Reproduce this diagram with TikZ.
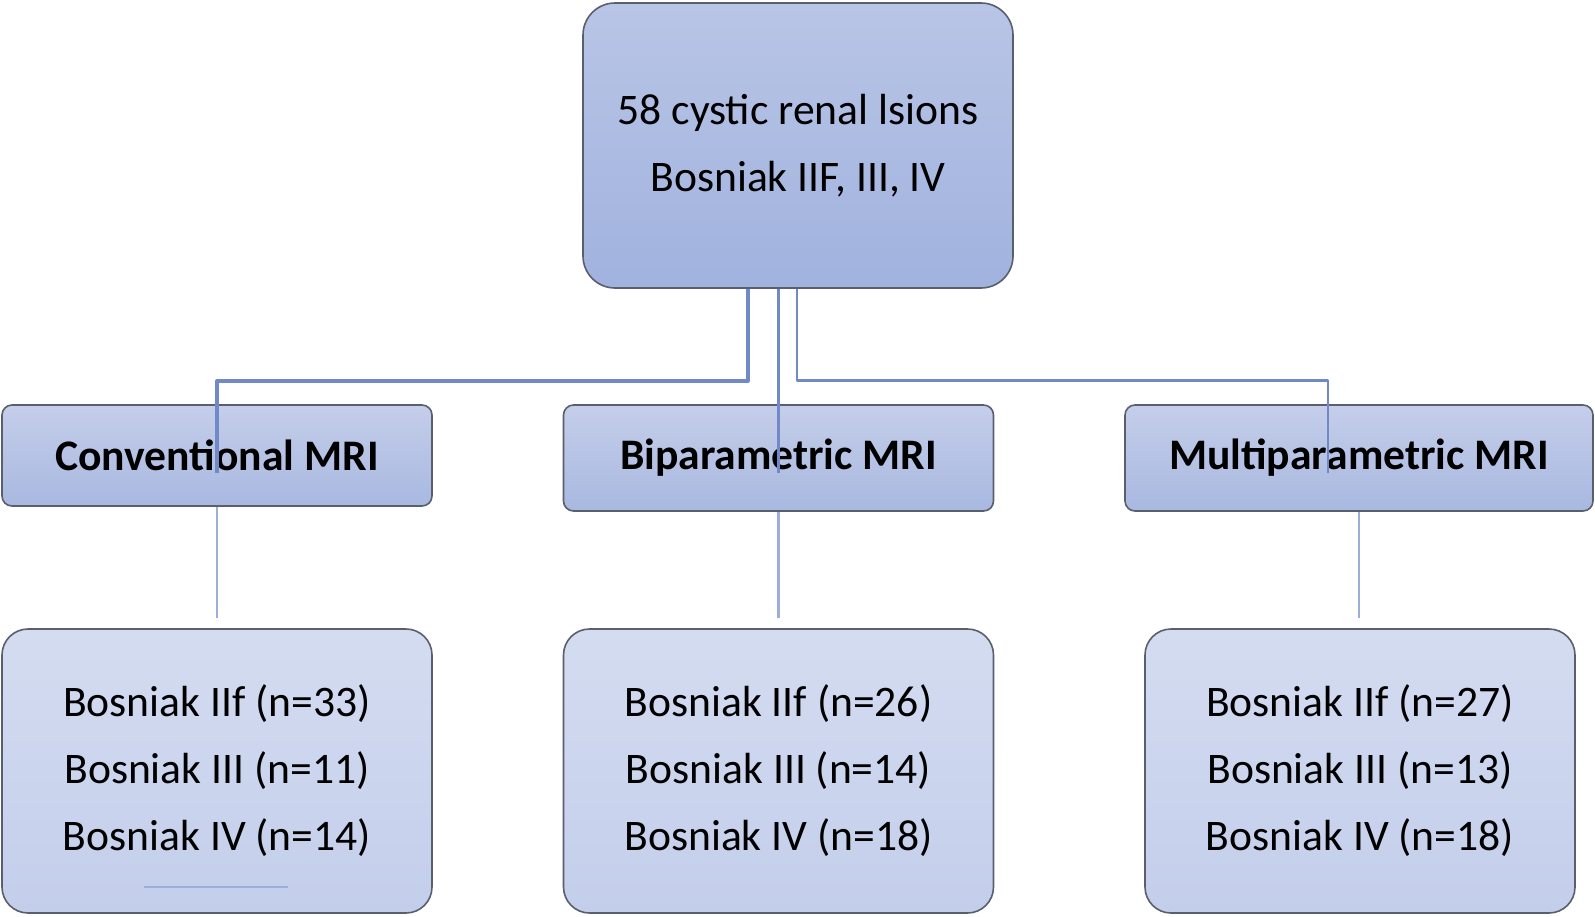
\documentclass[tikz,border=0pt]{standalone}
\usepackage{fontspec}
\setmainfont{Carlito}
\usetikzlibrary{positioning}
\definecolor{topA}{HTML}{B9C5E6}
\definecolor{topB}{HTML}{A0B2DE}
\definecolor{midA}{HTML}{C5CEEA}
\definecolor{midB}{HTML}{A8B8E0}
\definecolor{resA}{HTML}{D4DCF0}
\definecolor{resB}{HTML}{C3CEEB}
\definecolor{edge}{HTML}{5A5F6E}
\definecolor{linkc}{HTML}{7189C6}
\definecolor{linkl}{HTML}{9CAFDC}
\tikzset{
  topbox/.style={draw=edge, line width=0.8pt, rounded corners=16pt, top color=topA, bottom color=topB,
    minimum width=215pt, minimum height=142.5pt, align=center},
  mribox/.style={draw=edge, line width=0.8pt, rounded corners=5pt, top color=midA, bottom color=midB,
    minimum width=215pt, minimum height=53pt, font=\fontsize{21.8}{33.5}\selectfont\bfseries},
  resbox/.style={draw=edge, line width=0.8pt, rounded corners=13pt, top color=resA, bottom color=resB,
    minimum width=215pt, minimum height=142pt, align=center},
  link/.style={draw=linkc, line width=1.8pt},
  sublink/.style={draw=linkl, line width=1.3pt, shorten >=5pt}
}
\begin{document}
\begin{tikzpicture}[x=0.5pt, y=-0.5pt, line join=round, font=\fontsize{21.8}{33.5}\selectfont]
	\useasboundingbox (0,0) rectangle (1595,916);
	% boxes
	\node[topbox] (top) at (798,145.5) {58 cystic renal lsions\\Bosniak IIF, III, IV};
	\node[mribox, minimum height=50.5pt] (conv) at (217,455.5) {Conventional MRI};
	\node[mribox] (bip) at (778.5,458) {Biparametric MRI};
	\node[mribox, minimum width=234pt] (mult) at (1359,458) {Multiparametric MRI};
	\node[resbox] (convres) at (217,771) {Bosniak IIf (n=33)\\Bosniak III (n=11)\\Bosniak IV (n=14)};
	\node[resbox] (bipres) at (778.5,771) {Bosniak IIf (n=26)\\Bosniak III (n=14)\\Bosniak IV (n=18)};
	\node[resbox] (multres) at (1360,771) {Bosniak IIf (n=27)\\Bosniak III (n=13)\\Bosniak IV (n=18)};
	% connectors
	\draw[link] ([xshift=-25pt]top.south) -- ++(0,-46pt) -| ([yshift=-8.75pt]conv.center);
	\draw[link, line width=1.4pt] (bip.center |- top.south) -- ([yshift=-7.5pt]bip.center);
	\draw[link, line width=1.4pt] ([xshift=-0.5pt]top.south) -- ++(0,-46pt) -| ([xshift=-15.5pt,yshift=-7.5pt]mult.center);
	\draw[sublink] (conv.south) -- (convres.north);
	\draw[sublink] (bip.south) -- (bipres.north);
	\draw[sublink] (mult.south) -- (mult.south |- multres.north);
	\draw[linkl, line width=1pt] (144,887) -- (288,887);
\end{tikzpicture}
\end{document}
